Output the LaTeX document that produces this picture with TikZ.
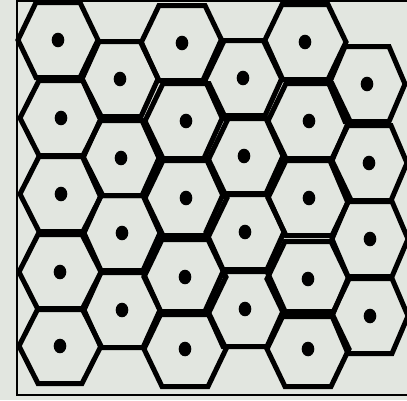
\documentclass[tikz,border=0pt]{standalone}
\begin{document}
\begin{tikzpicture}[x=1pt,y=-1pt,
  hexcell/.style={line width=5pt, line join=miter},
  borderline/.style={line width=2pt}]
\definecolor{bg}{RGB}{226,230,224}
\useasboundingbox (0,0) rectangle (407,400);
\fill[bg] (0,0) rectangle (407,400);
\begin{scope}
\clip (0,0) rectangle (407,400);
\draw[borderline] (17,1) rectangle (430,395);
\end{scope}
\foreach \cx/\cy/\a/\b in {
  58/40/40/22, 61/118/41/22, 61/194/41/22, 60/272/41/22, 60/346/41/22,
  120/79/38/21, 121/158/38/21, 122/233/38/21, 122/310/38/21,
  182/43/41/23, 186/121/41/23, 186/198/41/23, 185/277/41/23, 185/349/41/23,
  243/78/39/22, 244/156/39/22, 245/232/39/22, 245/309/39/22,
  305/42/41/23, 309/121/41/23, 309/198/41/23, 308/279/41/23, 308/349/41/23,
  367/84/38/22, 369/163/38/22, 370/239/38/22, 370/316/38/22} {
  \draw[hexcell] (\cx-\a,\cy) -- (\cx-\b,\cy-37.5) -- (\cx+\b,\cy-37.5) -- (\cx+\a,\cy)
     -- (\cx+\b,\cy+37.5) -- (\cx-\b,\cy+37.5) -- cycle;
  \fill (\cx,\cy) ellipse (6.3 and 7.3);
}
\end{tikzpicture}
\end{document}
